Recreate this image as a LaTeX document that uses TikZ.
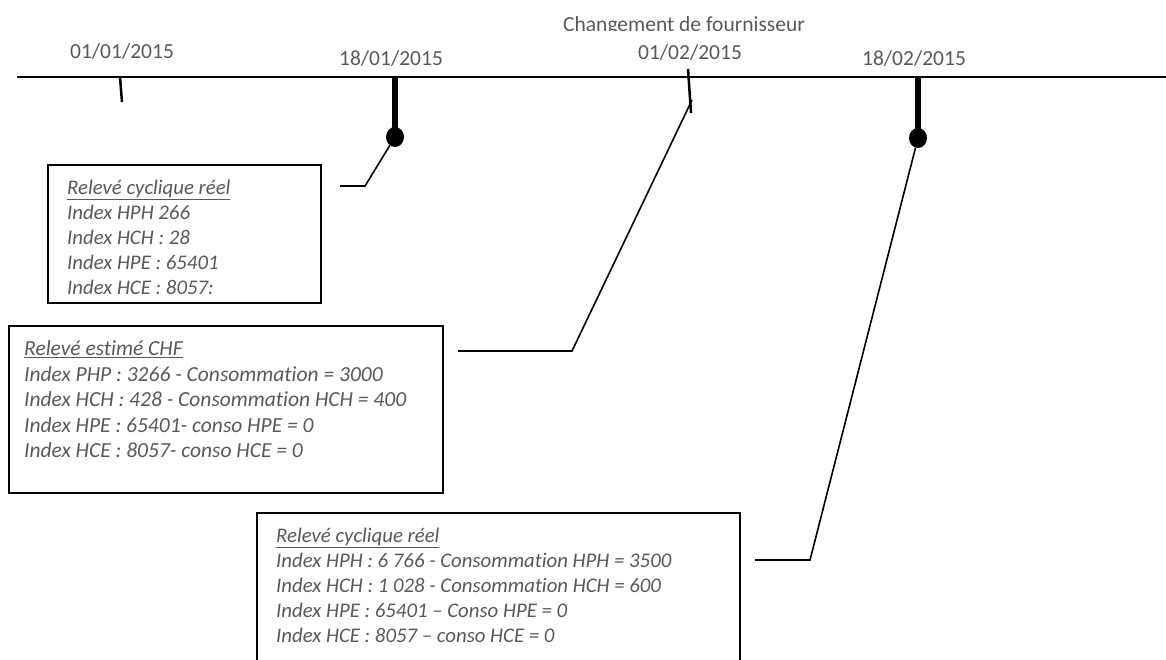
\documentclass[tikz,border=0pt]{standalone}
\usepackage{fontspec}
\setmainfont{Carlito}[Ligatures=NoCommon]
\usetikzlibrary{shapes.geometric}
\definecolor{txt}{HTML}{595959}
\begin{document}
\begin{tikzpicture}[x=1pt,y=-1pt,
  datelab/.style={text=txt, font=\fontsize{21.5}{25}\selectfont, inner sep=0pt},
  boxtext/.style={text=txt, font=\fontsize{20.8}{25}\selectfont\itshape, inner sep=0pt, align=left, anchor=north west},
  boxframe/.style={draw, line width=1.8pt, anchor=north west, inner sep=0pt},
  thintick/.style={line width=2.5pt},
  thicktick/.style={line width=6pt},
  dot/.style={ellipse, fill=black, inner sep=0pt, minimum width=18pt, minimum height=20pt},
  conn/.style={line width=1.6pt}]
\clip (0,0) rectangle (1166,660);
\useasboundingbox (0,0) rectangle (1166,660);

% main time line
\coordinate (l0) at (17,77);
\coordinate (l1) at (1170,77);
\draw[line width=2pt] (l0) -- (l1);

% dates
\node[datelab] (d1) at (122,51.6) {01/01/2015};
\node[datelab] (d2) at (391,58) {18/01/2015};
\begin{scope}
\clip (500,0) rectangle (900,30.5);
\node[datelab] (chg) at (684,25.6) {Changement de fournisseur};
\end{scope}
\node[datelab] (d3) at (690,52.6) {01/02/2015};
\node[datelab] (d4) at (914,58) {18/02/2015};

% ticks
\coordinate (t1a) at (120,77);
\coordinate (t1b) at (122,102);
\draw[thintick] (t1a) -- (t1b);
\coordinate (t3a) at (688,69);
\coordinate (t3b) at (691,113);
\draw[thintick] (t3a) -- (t3b);

\node[dot] (cr1) at (395,137) {};
\coordinate (s1) at (395,76);
\draw[thicktick] (s1) -- (cr1.center);
\node[dot] (cr2) at (918,138) {};
\coordinate (s2) at (918,76);
\draw[thicktick] (s2) -- (cr2.center);

% boxes
\node[boxframe, minimum width=273pt, minimum height=138pt] (b1) at (47,164) {};
\node[boxtext] (x1) at (67,179.5) {\underline{Relevé cyclique réel}\\Index HPH 266\\Index HCH : 28\\Index HPE : 65401\\Index HCE : 8057:};

\node[boxframe, minimum width=434pt, minimum height=167pt] (b2) at (8,325) {};
\node[boxtext, font=\fontsize{21.5}{25.5}\selectfont\itshape] (x2) at (24,340.5) {\underline{Relevé estimé CHF}\\Index PHP : 3266 - Consommation = 3000\\Index HCH : 428 - Consommation HCH = 400\\Index HPE : 65401- conso HPE = 0\\Index HCE : 8057- conso HCE = 0};

\node[boxframe, minimum width=483pt, minimum height=170pt] (b3) at (256,512) {};
\node[boxtext] (x3) at (276,528) {\underline{Relevé cyclique réel}\\Index HPH : 6 766 - Consommation HPH = 3500\\Index HCH : 1 028 - Consommation HCH = 600\\Index HPE : 65401 – Conso HPE = 0\\Index HCE : 8057 – conso HCE = 0};

% connectors
\coordinate (c1) at (340,186);
\coordinate (k1) at (365,186);
\draw[conn] (c1) -- (k1) -- (cr1);
\coordinate (c2) at (458,351);
\coordinate (k2) at (572,351);
\coordinate (e2) at (692,100);
\draw[conn] (c2) -- (k2) -- (e2);
\coordinate (c3) at (755,560);
\coordinate (k3) at (810,560);
\draw[conn] (c3) -- (k3) -- (cr2);
\end{tikzpicture}
\end{document}
